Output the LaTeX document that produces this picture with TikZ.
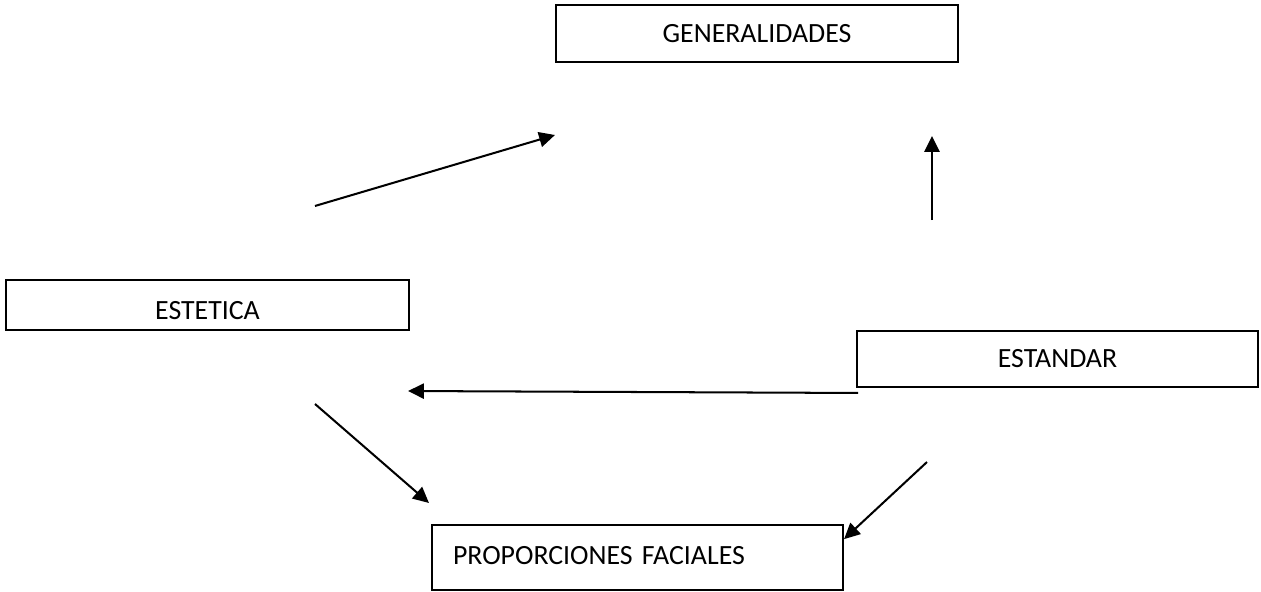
\documentclass[tikz,border=0pt]{standalone}
\usepackage{fontspec}
\setmainfont{Carlito}
\usepackage{tikz}
\usetikzlibrary{arrows.meta,positioning,calc}

\begin{document}
\begin{tikzpicture}[
  font=\fontsize{11}{13}\selectfont,
  box/.style={draw=black,line width=0.8pt,inner sep=0pt,align=center},
  arr/.style={-{Triangle[length=2.2mm,width=2.1mm]},line width=0.8pt,black},
  ]
  \useasboundingbox (0,0) rectangle (17.514,-8.222);
  \node[box,minimum width=5.583cm,minimum height=0.792cm] (gen) at (10.514,-0.465) {GENERALIDADES};
  \node[box,minimum width=5.597cm,minimum height=0.694cm,text height=0.43cm,text depth=0.013cm] (est) at (2.882,-4.236) {ESTETICA};
  \node[box,minimum width=5.569cm,minimum height=0.778cm] (std) at (14.688,-4.986) {ESTANDAR};
  \node[box,anchor=north west,inner xsep=0.292cm,text width=5.125cm,align=left,
        text height=0.542cm,text depth=0.361cm] (prop) at (5.986,-7.278) {PROPORCIONES FACIALES};
  % free ends of the connectors
  \coordinate (e1) at (4.375,-2.861);
  \coordinate (g1) at (7.708,-1.875);
  \coordinate (s1) at (12.944,-3.056);
  \coordinate (g2) at (12.944,-1.889);
  \coordinate (s2) at (11.917,-5.458);
  \coordinate (e2) at (5.667,-5.431);
  \coordinate (e3) at (4.375,-5.611);
  \coordinate (p1) at (5.958,-6.986);
  \coordinate (s3) at (12.875,-6.417);
  \draw[arr] (e1) -- (g1);
  \draw[arr] (s1) -- (g2);
  \draw[arr] (s2) -- (e2);
  \draw[arr] (e3) -- (p1);
  \draw[arr] (s3) -- ($(prop.north east)+(0,-0.21)$);
\end{tikzpicture}
\end{document}
